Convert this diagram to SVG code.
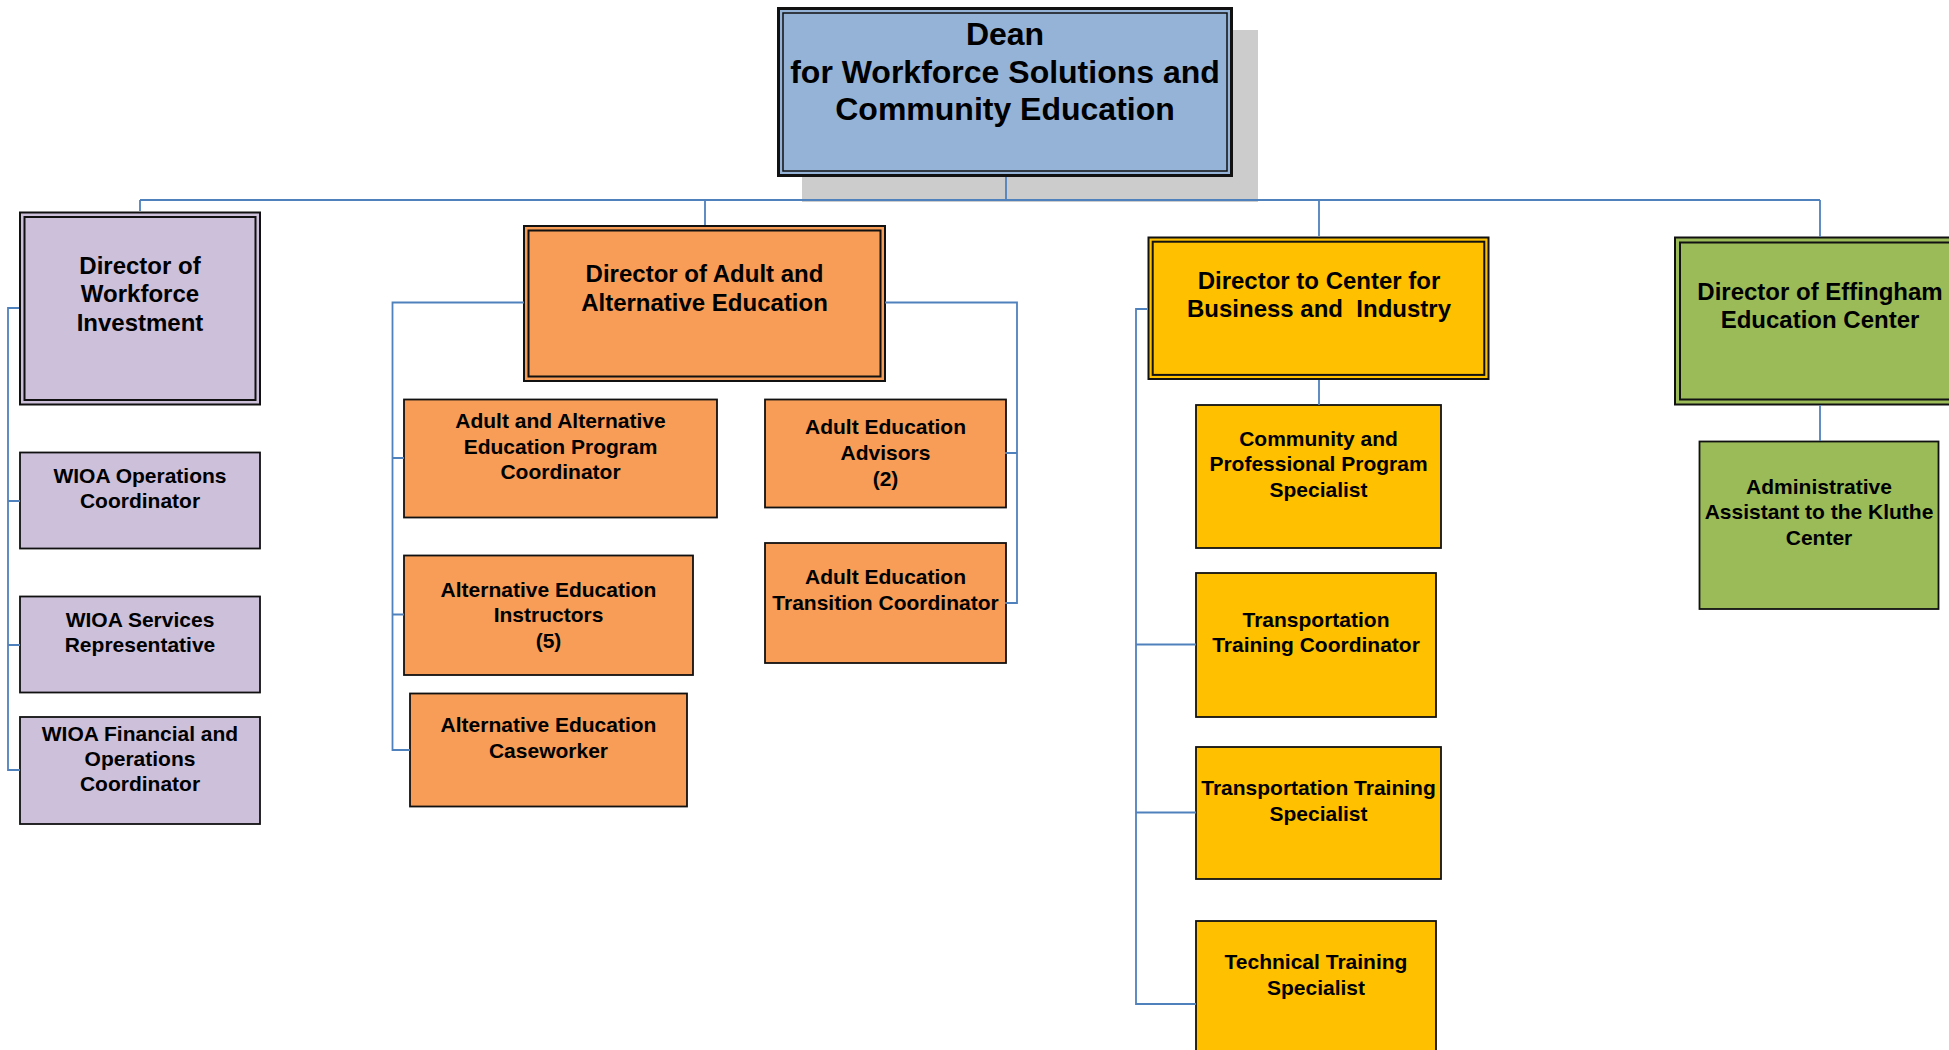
<svg xmlns="http://www.w3.org/2000/svg" width="1949" height="1050" viewBox="0 0 1949 1050">
<style>
.t{font-family:"Liberation Sans",Arial,sans-serif;font-weight:bold;fill:#000;text-anchor:middle}
.d0{font-size:32px}
.d1{font-size:24px}
.c{font-size:21px}
.o{stroke:#111;stroke-width:2}
.i{fill:none;stroke:#111;stroke-width:2}
.b{stroke:#111;stroke-width:1.8}
.blue{fill:#95b3d7}.lav{fill:#ccc0da}.org{fill:#f79d57}.yel{fill:#ffc000}.grn{fill:#9bbb59}
#connectors path{fill:none;stroke:#4f81bd;stroke-width:1.8}
</style>
<rect width="1949" height="1050" fill="#fff"/>
<g id="dean">
<rect x="802" y="30" width="456" height="172" fill="#cccccc"/>
<rect x="778.5" y="8.5" width="453" height="167" class="blue" stroke="#111" stroke-width="3"/>
<rect x="783" y="13" width="444" height="158" fill="none" stroke="#111" stroke-width="1.5"/>
<text class="t d0" x="1005" y="45">Dean</text>
<text class="t d0" x="1005" y="82.5">for Workforce Solutions and</text>
<text class="t d0" x="1005" y="120">Community Education</text>
</g>
<g id="dir-workforce">
<rect x="20" y="212.5" width="240" height="192" class="lav o"/>
<rect x="24.5" y="217" width="231" height="183" class="i"/>
<text class="t d1" x="140" y="273.5">Director of</text>
<text class="t d1" x="140" y="302">Workforce</text>
<text class="t d1" x="140" y="330.5">Investment</text>
</g>
<g id="wioa-ops">
<rect x="20" y="452.5" width="240" height="96" class="lav b"/>
<text class="t c" x="140" y="482.5">WIOA Operations</text>
<text class="t c" x="140" y="507.5">Coordinator</text>
</g>
<g id="wioa-services">
<rect x="20" y="596.5" width="240" height="96" class="lav b"/>
<text class="t c" x="140" y="626.5">WIOA Services</text>
<text class="t c" x="140" y="651.5">Representative</text>
</g>
<g id="wioa-financial">
<rect x="20" y="717" width="240" height="107" class="lav b"/>
<text class="t c" x="140" y="740.5">WIOA Financial and</text>
<text class="t c" x="140" y="765.5">Operations</text>
<text class="t c" x="140" y="790.5">Coordinator</text>
</g>
<g id="dir-adult">
<rect x="524" y="226" width="361" height="155" class="org o"/>
<rect x="528.5" y="230.5" width="352" height="146" class="i"/>
<text class="t d1" x="704.5" y="282">Director of Adult and</text>
<text class="t d1" x="704.5" y="310.5">Alternative Education</text>
</g>
<g id="program-coordinator">
<rect x="404" y="399.5" width="313" height="118" class="org b"/>
<text class="t c" x="560.5" y="427.5">Adult and Alternative</text>
<text class="t c" x="560.5" y="453.5">Education Program</text>
<text class="t c" x="560.5" y="478.5">Coordinator</text>
</g>
<g id="instructors">
<rect x="404" y="555.5" width="289" height="119.5" class="org b"/>
<text class="t c" x="548.5" y="596.5">Alternative Education</text>
<text class="t c" x="548.5" y="622">Instructors</text>
<text class="t c" x="548.5" y="648">(5)</text>
</g>
<g id="caseworker">
<rect x="410" y="693.5" width="277" height="113" class="org b"/>
<text class="t c" x="548.5" y="732">Alternative Education</text>
<text class="t c" x="548.5" y="758">Caseworker</text>
</g>
<g id="advisors">
<rect x="765" y="399.5" width="241" height="108" class="org b"/>
<text class="t c" x="885.5" y="434">Adult Education</text>
<text class="t c" x="885.5" y="460">Advisors</text>
<text class="t c" x="885.5" y="486">(2)</text>
</g>
<g id="transition">
<rect x="765" y="543" width="241" height="120" class="org b"/>
<text class="t c" x="885.5" y="584">Adult Education</text>
<text class="t c" x="885.5" y="610">Transition Coordinator</text>
</g>
<g id="dir-business">
<rect x="1148.5" y="237.5" width="340" height="141.5" class="yel o" stroke-width="3"/>
<rect x="1152.7" y="241.7" width="331.6" height="133.2" class="i"/>
<text class="t d1" x="1319" y="288.5">Director to Center for</text>
<text class="t d1" x="1319" y="317" xml:space="preserve">Business and  Industry</text>
</g>
<g id="community">
<rect x="1196" y="405" width="245" height="143" class="yel b"/>
<text class="t c" x="1318.5" y="446">Community and</text>
<text class="t c" x="1318.5" y="471">Professional Program</text>
<text class="t c" x="1318.5" y="496.5">Specialist</text>
</g>
<g id="transport-coordinator">
<rect x="1196" y="573" width="240" height="144" class="yel b"/>
<text class="t c" x="1316" y="627">Transportation</text>
<text class="t c" x="1316" y="652">Training Coordinator</text>
</g>
<g id="transport-specialist">
<rect x="1196" y="747" width="245" height="132" class="yel b"/>
<text class="t c" x="1318.5" y="794.5">Transportation Training</text>
<text class="t c" x="1318.5" y="820.5">Specialist</text>
</g>
<g id="technical-specialist">
<rect x="1196" y="921" width="240" height="150" class="yel b"/>
<text class="t c" x="1316" y="968.5">Technical Training</text>
<text class="t c" x="1316" y="994.5">Specialist</text>
</g>
<g id="dir-effingham">
<rect x="1675" y="237.5" width="290" height="167" class="grn o"/>
<rect x="1680" y="242.5" width="280" height="157" class="i"/>
<text class="t d1" x="1820" y="299.5">Director of Effingham</text>
<text class="t d1" x="1820" y="328">Education Center</text>
</g>
<g id="admin-assistant">
<rect x="1699.5" y="441.5" width="239" height="167.5" class="grn b"/>
<text class="t c" x="1819" y="493.5">Administrative</text>
<text class="t c" x="1819" y="518.5">Assistant to the Kluthe</text>
<text class="t c" x="1819" y="544.5">Center</text>
</g>
<g id="connectors">
<path d="M1006 177V200M140 200H1820M140 200V211M705 200V225M1319 200V236M1820 200V237"/>
<path d="M19 308H8V770H20M8 501H20M8 645H20"/>
<path d="M524 302.5H392.5V750H410M392.5 458H404M392.5 614.5H404"/>
<path d="M885 302.5H1017V603H1005M1017 453H1005"/>
<path d="M1319 380V405M1147 309H1136V1004H1196M1136 644.5H1196M1136 812.5H1196"/>
<path d="M1820 405V441"/>
</g>
</svg>
